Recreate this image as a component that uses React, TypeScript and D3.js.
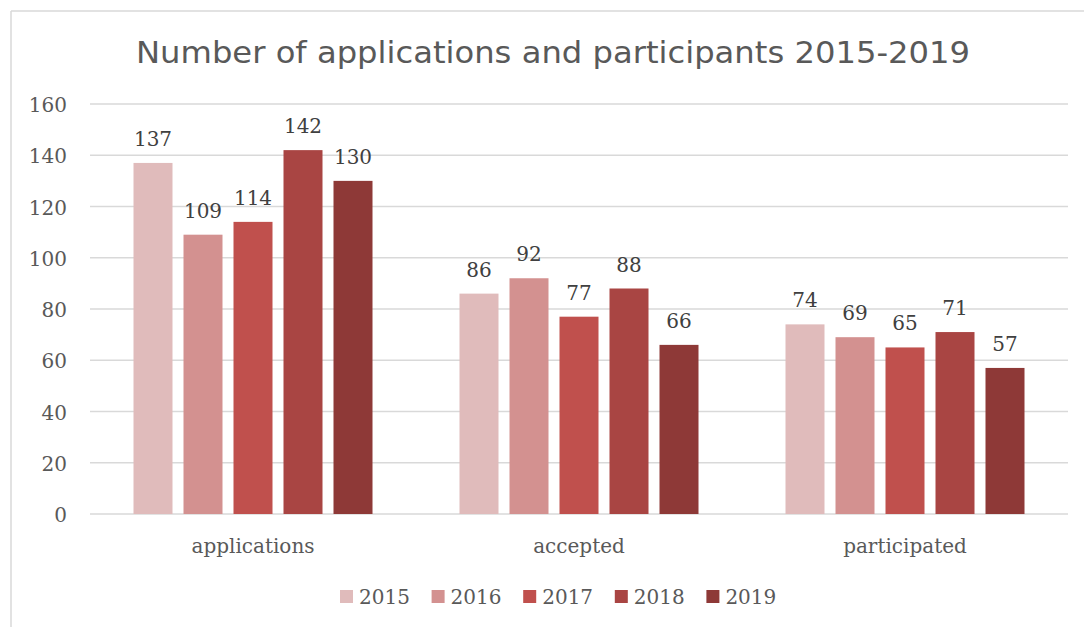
import { useMemo } from 'react';
import { scaleBand, scaleLinear } from 'd3';

const categories = ['applications', 'accepted', 'participated'];
const years = ['2015', '2016', '2017', '2018', '2019'];
const values2015 = [137, 86, 74];
const values2016 = [109, 92, 69];
const values2017 = [114, 77, 65];
const values2018 = [142, 88, 71];
const values2019 = [130, 66, 57];
const yTicks = [0, 20, 40, 60, 80, 100, 120, 140, 160];
const colors = ['#e0bbbb', '#d39190', '#c0504d', '#a94543', '#8e3937'];

const seriesValues = [values2015, values2016, values2017, values2018, values2019];

const labelFont = '"DejaVu Serif", "Liberation Serif", serif';

export default function App() {
  const width = 1084;
  const height = 627;
  const plot = { left: 90, right: 1068, top: 104, bottom: 514 };

  const x0 = useMemo(() => scaleBand<string>().domain(categories).range([plot.left, plot.right]).paddingInner(0).paddingOuter(0), []);
  const x1 = useMemo(
    () => scaleBand<string>().domain(years).range([43.5, x0.bandwidth() - 43.5]).paddingInner(0.22).paddingOuter(0),
    [x0]
  );
  const y = useMemo(() => scaleLinear().domain([0, 160]).range([plot.bottom, plot.top]), []);

  const legendStart = 340;
  const legendStep = 91.6;

  return (
    <svg width={width} height={height} style={{ position: 'absolute', left: 0, top: 0, background: '#fff' }}>
      <rect x={0} y={0} width={width} height={height} fill="#fff" />
      <line x1={11} y1={11} x2={width} y2={11} stroke="#d9d9d9" strokeWidth={1.5} />
      <line x1={11} y1={11} x2={11} y2={height} stroke="#d9d9d9" strokeWidth={1.5} />

      <text x={553} y={63} textAnchor="middle" fontFamily='"DejaVu Sans", Verdana, sans-serif' fontSize={31} fill="#595959" textLength={834} lengthAdjust="spacingAndGlyphs">
        Number of applications and participants 2015-2019
      </text>

      {yTicks.map((t) => (
        <g key={t}>
          <line x1={plot.left} x2={plot.right} y1={y(t)} y2={y(t)} stroke="#d9d9d9" strokeWidth={1.5} />
          <text x={67} y={y(t) + 8} textAnchor="end" fontFamily={labelFont} fontSize={20} fill="#595959">
            {t}
          </text>
        </g>
      ))}

      {categories.map((c, ci) => (
        <g key={c} transform={`translate(${x0(c)},0)`}>
          {years.map((yr, si) => {
            const v = seriesValues[si][ci];
            const bx = x1(yr) ?? 0;
            return (
              <g key={yr}>
                <rect x={bx} y={y(v)} width={x1.bandwidth()} height={y(0) - y(v)} fill={colors[si]} />
                <text x={bx + x1.bandwidth() / 2} y={y(v) - 17} textAnchor="middle" fontFamily={labelFont} fontSize={20} fill="#404040">
                  {v}
                </text>
              </g>
            );
          })}
          <text x={x0.bandwidth() / 2} y={553} textAnchor="middle" fontFamily={labelFont} fontSize={20} fill="#595959">
            {c}
          </text>
        </g>
      ))}

      {years.map((yr, i) => (
        <g key={yr} transform={`translate(${legendStart + i * legendStep},0)`}>
          <rect x={0} y={590} width={13} height={13} fill={colors[i]} />
          <text x={19} y={604} fontFamily={labelFont} fontSize={20} fill="#595959">
            {yr}
          </text>
        </g>
      ))}
    </svg>
  );
}
